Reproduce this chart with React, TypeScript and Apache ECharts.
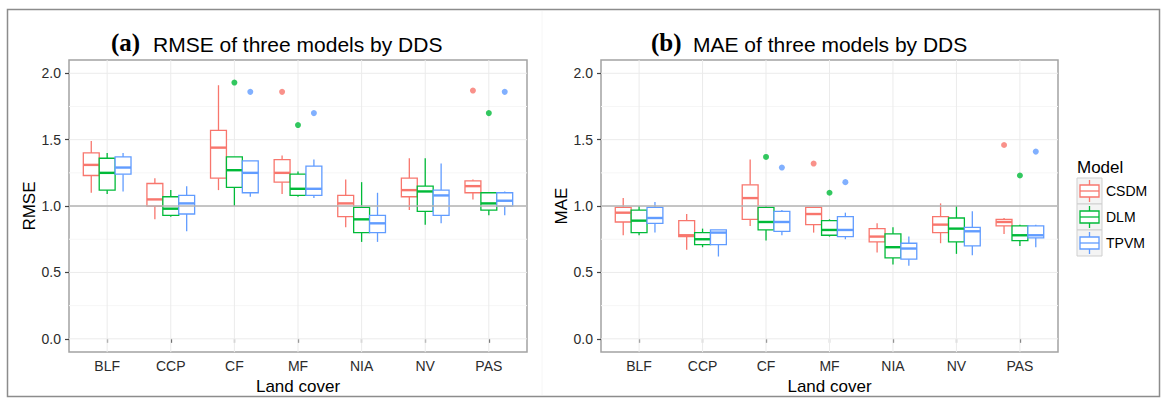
import React, { useEffect, useRef } from 'react';
import * as echarts from 'echarts';

// Land-cover classes on the x axis
const categories = ['BLF', 'CCP', 'CF', 'MF', 'NIA', 'NV', 'PAS'];
const models = ['CSDM', 'DLM', 'TPVM'];
const modelColors = ['#F8766D', '#00BA38', '#619CFF'];
// dodge offset (in category units) of each model's box
const dodge = [-0.25, 0, 0.25];
const boxWidth = 0.25;

const yTickValues = [0, 0.5, 1, 1.5, 2];
const yMinorValues = [0.25, 0.75, 1.25, 1.75];
const referenceLevel = [1];

// Box statistics per land cover: [lower whisker, Q1, median, Q3, upper whisker]
const rmseCSDM = [
  [1.10, 1.23, 1.31, 1.40, 1.49],
  [0.90, 1.00, 1.05, 1.17, 1.21],
  [1.12, 1.21, 1.44, 1.57, 1.91],
  [1.09, 1.18, 1.25, 1.35, 1.38],
  [0.84, 0.92, 1.02, 1.08, 1.20],
  [0.97, 1.07, 1.12, 1.21, 1.36],
  [1.05, 1.10, 1.15, 1.19, 1.20],
];
const rmseDLM = [
  [1.09, 1.12, 1.25, 1.36, 1.40],
  [0.92, 0.93, 0.98, 1.07, 1.12],
  [1.00, 1.14, 1.27, 1.37, 1.37],
  [1.07, 1.08, 1.13, 1.24, 1.26],
  [0.73, 0.80, 0.90, 0.99, 1.18],
  [0.86, 0.96, 1.11, 1.15, 1.36],
  [0.93, 0.97, 1.02, 1.10, 1.10],
];
const rmseTPVM = [
  [1.11, 1.24, 1.29, 1.37, 1.40],
  [0.81, 0.94, 1.02, 1.08, 1.15],
  [1.07, 1.10, 1.25, 1.34, 1.34],
  [1.06, 1.08, 1.13, 1.30, 1.35],
  [0.73, 0.80, 0.87, 0.93, 1.10],
  [0.87, 0.93, 1.08, 1.12, 1.32],
  [0.93, 1.00, 1.04, 1.10, 1.11],
];
const rmseOutliersCSDM: [string, number][] = [['MF', 1.86], ['PAS', 1.87]];
const rmseOutliersDLM: [string, number][] = [['CF', 1.93], ['MF', 1.61], ['PAS', 1.70]];
const rmseOutliersTPVM: [string, number][] = [['CF', 1.86], ['MF', 1.70], ['PAS', 1.86]];

const maeCSDM = [
  [0.78, 0.88, 0.95, 0.99, 1.06],
  [0.67, 0.77, 0.78, 0.89, 0.94],
  [0.85, 0.90, 1.06, 1.16, 1.35],
  [0.80, 0.86, 0.94, 0.99, 0.99],
  [0.65, 0.73, 0.77, 0.83, 0.87],
  [0.72, 0.80, 0.86, 0.92, 1.02],
  [0.79, 0.85, 0.88, 0.90, 0.91],
];
const maeDLM = [
  [0.78, 0.80, 0.89, 0.97, 1.00],
  [0.69, 0.71, 0.75, 0.80, 0.83],
  [0.74, 0.82, 0.88, 0.99, 1.00],
  [0.77, 0.78, 0.82, 0.89, 0.90],
  [0.56, 0.61, 0.69, 0.79, 0.84],
  [0.64, 0.73, 0.83, 0.91, 1.00],
  [0.70, 0.74, 0.78, 0.85, 0.86],
];
const maeTPVM = [
  [0.80, 0.87, 0.91, 0.99, 1.03],
  [0.62, 0.71, 0.80, 0.82, 0.82],
  [0.78, 0.81, 0.88, 0.96, 0.97],
  [0.75, 0.77, 0.82, 0.92, 0.95],
  [0.55, 0.60, 0.68, 0.72, 0.77],
  [0.63, 0.70, 0.81, 0.84, 0.96],
  [0.69, 0.76, 0.78, 0.85, 0.86],
];
const maeOutliersCSDM: [string, number][] = [['MF', 1.32], ['PAS', 1.46]];
const maeOutliersDLM: [string, number][] = [['CF', 1.37], ['MF', 1.10], ['PAS', 1.23]];
const maeOutliersTPVM: [string, number][] = [['CF', 1.29], ['MF', 1.18], ['PAS', 1.41]];

const panels = [
  {
    metric: 'RMSE',
    tag: '(a)',
    title: 'RMSE of three models by DDS',
    stats: [rmseCSDM, rmseDLM, rmseTPVM],
    outliers: [rmseOutliersCSDM, rmseOutliersDLM, rmseOutliersTPVM],
  },
  {
    metric: 'MAE',
    tag: '(b)',
    title: 'MAE of three models by DDS',
    stats: [maeCSDM, maeDLM, maeTPVM],
    outliers: [maeOutliersCSDM, maeOutliersDLM, maeOutliersTPVM],
  },
];

const SANS = "'Liberation Sans', Arial, Helvetica, sans-serif";
const SERIF = "'Liberation Serif', 'Times New Roman', serif";

// full-width / full-height rule lines inside a grid
function ruleSeries(dir: 'h' | 'v', values: number[], color: string, width: number, gi: number, z: number) {
  return {
    type: 'custom',
    xAxisIndex: gi,
    yAxisIndex: gi,
    silent: true,
    z,
    data: values.map((v) => (dir === 'h' ? [4, v] : [v, 1])),
    renderItem: (params: any, api: any) => {
      const cs = params.coordSys;
      if (dir === 'h') {
        const y = api.coord([api.value(0), api.value(1)])[1];
        return {
          type: 'line',
          shape: { x1: cs.x, y1: y, x2: cs.x + cs.width, y2: y },
          style: { stroke: color, lineWidth: width },
        };
      }
      const x = api.coord([api.value(0), api.value(1)])[0];
      return {
        type: 'line',
        shape: { x1: x, y1: cs.y, x2: x, y2: cs.y + cs.height },
        style: { stroke: color, lineWidth: width },
      };
    },
  };
}

function boxSeries(name: string, color: string, stats: number[][], offset: number, gi: number) {
  return {
    type: 'custom',
    name,
    xAxisIndex: gi,
    yAxisIndex: gi,
    z: 3,
    data: stats.map((s, i) => [i + 1 + offset, ...s]),
    encode: { x: 0, y: [1, 2, 3, 4, 5] },
    renderItem: (params: any, api: any) => {
      const x = api.value(0);
      const lo = api.coord([x, api.value(1)]);
      const q1 = api.coord([x, api.value(2)]);
      const med = api.coord([x, api.value(3)]);
      const q3 = api.coord([x, api.value(4)]);
      const hi = api.coord([x, api.value(5)]);
      const xl = api.coord([x - boxWidth / 2, api.value(3)])[0];
      const xr = api.coord([x + boxWidth / 2, api.value(3)])[0];
      const line = { stroke: color, lineWidth: 1.3 };
      return {
        type: 'group',
        children: [
          { type: 'line', shape: { x1: hi[0], y1: hi[1], x2: q3[0], y2: q3[1] }, style: line },
          { type: 'line', shape: { x1: q1[0], y1: q1[1], x2: lo[0], y2: lo[1] }, style: line },
          {
            type: 'rect',
            shape: { x: xl, y: q3[1], width: xr - xl, height: q1[1] - q3[1] },
            style: { fill: '#ffffff', stroke: color, lineWidth: 1.3 },
          },
          {
            type: 'line',
            shape: { x1: xl, y1: med[1], x2: xr, y2: med[1] },
            style: { stroke: color, lineWidth: 2.4 },
          },
        ],
      };
    },
  };
}

function buildOption() {
  const grids = [
    { left: 69, top: 60, width: 458, height: 295 },
    { left: 601, top: 60, width: 457, height: 295 },
  ].map((g) => ({
    ...g,
    show: true,
    backgroundColor: '#ffffff',
    borderColor: '#a3a3a3',
    borderWidth: 1.5,
  }));

  const xAxes = panels.map((_, gi) => ({
    type: 'value',
    gridIndex: gi,
    min: 0.4,
    max: 7.6,
    name: 'Land cover',
    nameLocation: 'middle',
    nameGap: 25,
    nameTextStyle: { fontFamily: SANS, fontSize: 17, color: '#000' },
    axisLine: { show: false },
    axisTick: {
      show: true,
      length: 4,
      customValues: categories.map((_, i) => i + 1),
      lineStyle: { color: '#444', width: 1.2 },
    },
    axisLabel: {
      customValues: categories.map((_, i) => i + 1),
      formatter: (v: number) => categories[Math.round(v) - 1] ?? '',
      margin: 7,
      fontFamily: SANS,
      fontSize: 14,
      color: '#2b2b2b',
    },
    splitLine: { show: false },
  }));

  const yAxes = panels.map((p, gi) => ({
    type: 'value',
    gridIndex: gi,
    min: -0.1,
    max: 2.1,
    name: p.metric,
    nameLocation: 'middle',
    nameGap: 31,
    nameRotate: 90,
    nameTextStyle: { fontFamily: SANS, fontSize: 17, color: '#000' },
    axisLine: { show: false },
    axisTick: {
      show: true,
      length: 4,
      customValues: yTickValues,
      lineStyle: { color: '#444', width: 1.2 },
    },
    axisLabel: {
      customValues: yTickValues,
      formatter: (v: number) => v.toFixed(1),
      margin: 8,
      fontFamily: SANS,
      fontSize: 14,
      color: '#2b2b2b',
    },
    splitLine: { show: false },
  }));

  const series: any[] = [];
  panels.forEach((p, gi) => {
    series.push(ruleSeries('h', yMinorValues, '#f6f6f6', 1, gi, 1));
    series.push(ruleSeries('h', yTickValues, '#ebebeb', 1, gi, 1));
    series.push(ruleSeries('v', categories.map((_, i) => i + 1), '#ebebeb', 1, gi, 1));
    models.forEach((m, mi) => {
      series.push(boxSeries(m, modelColors[mi], p.stats[mi], dodge[mi], gi));
    });
    series.push(ruleSeries('h', referenceLevel, '#b5b5b5', 1.6, gi, 4));
    models.forEach((m, mi) => {
      series.push({
        type: 'scatter',
        name: m,
        xAxisIndex: gi,
        yAxisIndex: gi,
        z: 5,
        symbol: 'circle',
        symbolSize: 6,
        itemStyle: { color: modelColors[mi] },
        data: p.outliers[mi].map(([cat, v]) => [categories.indexOf(cat) + 1 + dodge[mi], v]),
      });
    });
  });

  // titles, outer frame and legend
  const graphic: any[] = [
    {
      type: 'rect',
      shape: { x: 7.5, y: 9.5, width: 1152, height: 387 },
      style: { fill: 'none', stroke: '#8c8c8c', lineWidth: 1.5 },
      silent: true,
    },
    {
      type: 'line',
      shape: { x1: 542, y1: 11, x2: 542, y2: 395 },
      style: { stroke: '#f6f6f6', lineWidth: 1 },
      silent: true,
    },
  ];
  const titleX = [
    [111, 153],
    [651, 693],
  ];
  panels.forEach((p, gi) => {
    graphic.push({
      type: 'text',
      x: titleX[gi][0],
      y: 42,
      style: {
        text: p.tag,
        font: `bold 25px ${SERIF}`,
        fill: '#000',
        verticalAlign: 'middle',
        align: 'left',
      },
    });
    graphic.push({
      type: 'text',
      x: titleX[gi][1],
      y: 44,
      style: {
        text: p.title,
        font: `21px ${SANS}`,
        fill: '#000',
        verticalAlign: 'middle',
        align: 'left',
      },
    });
  });

  graphic.push({
    type: 'text',
    x: 1077,
    y: 167,
    style: { text: 'Model', font: `17px ${SANS}`, fill: '#000', verticalAlign: 'middle', align: 'left' },
  });
  models.forEach((m, mi) => {
    const top = 178 + mi * 26;
    const cy = top + 13;
    const cx = 1089.5;
    const c = modelColors[mi];
    graphic.push({
      type: 'rect',
      shape: { x: 1077, y: top, width: 25, height: 26 },
      style: { fill: '#f4f4f4', stroke: '#cfcfcf', lineWidth: 1 },
    });
    graphic.push({
      type: 'line',
      shape: { x1: cx, y1: cy - 11, x2: cx, y2: cy + 11 },
      style: { stroke: c, lineWidth: 1.3 },
    });
    graphic.push({
      type: 'rect',
      shape: { x: 1080, y: cy - 6, width: 19, height: 12 },
      style: { fill: '#ffffff', stroke: c, lineWidth: 1.3 },
    });
    graphic.push({
      type: 'line',
      shape: { x1: 1080, y1: cy, x2: 1099, y2: cy },
      style: { stroke: c, lineWidth: 1.3 },
    });
    graphic.push({
      type: 'text',
      x: 1106,
      y: cy,
      style: { text: m, font: `14px ${SANS}`, fill: '#000', verticalAlign: 'middle', align: 'left' },
    });
  });

  return {
    animation: false,
    backgroundColor: '#ffffff',
    grid: grids,
    xAxis: xAxes,
    yAxis: yAxes,
    series,
    graphic,
  };
}

export default function App() {
  const ref = useRef<HTMLDivElement>(null);
  useEffect(() => {
    if (!ref.current) return;
    const chart = echarts.init(ref.current, undefined, { renderer: 'svg' });
    chart.setOption(buildOption() as any);
    return () => chart.dispose();
  }, []);
  return (
    <div
      ref={ref}
      style={{ position: 'fixed', left: 0, top: 0, width: 1167, height: 400, background: '#fff' }}
    />
  );
}
